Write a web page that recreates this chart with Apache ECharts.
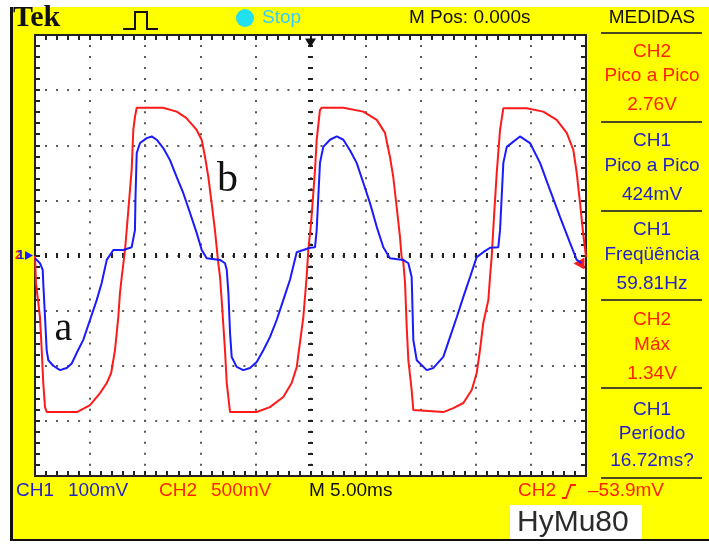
<!DOCTYPE html>
<html>
<head>
<meta charset="utf-8">
<script src="https://cdn.jsdelivr.net/npm/echarts@6/dist/echarts.min.js"></script>
<style>
  html, body { margin: 0; padding: 0; background: #ffffff; }
  #scope { width: 709px; height: 544px; }
</style>
</head>
<body>
<div id="scope"></div>
<script>
// Scope settings
const timePerDiv = 5;        // ms / div
const ch1PerDiv = 100;       // mV / div
const ch2PerDiv = 500;       // mV / div
const timeDivs = 10;
const voltDivs = 8;
const ch2TriggerLevel = -53.9;   // mV
const triggerTime = 25;          // ms, centre of sweep

// CH1 (blue), [ms, mV]
const ch1Trace = [
  [0.00,-5],[0.45,-14],[0.70,-26],[0.75,-50],[0.91,-112],[1.06,-172],[1.21,-190],[1.66,-200],
  [2.27,-208],[2.88,-204],[3.33,-196],[3.78,-177],[4.38,-153],[4.99,-117],[5.60,-81],[6.05,-50],
  [6.51,-8],[7.11,10],[8.01,10],[8.77,15],[9.07,46],[9.12,106],[9.23,186],[9.53,204],[10.14,213],
  [10.59,216],[11.04,210],[11.64,195],[12.25,173],[12.86,142],[13.46,113],[14.07,77],[14.67,41],
  [15.13,10],[15.58,-5],[16.79,-8],[17.24,-14],[17.40,-26],[17.55,-68],[17.70,-141],[17.85,-184],
  [18.30,-202],[18.90,-208],[19.51,-204],[20.12,-193],[20.72,-172],[21.32,-148],[21.93,-117],
  [22.53,-81],[23.14,-44],[23.75,6],[24.95,14],[25.41,15],[25.56,46],[25.86,168],[26.16,197],
  [26.77,210],[27.38,216],[27.98,210],[28.58,191],[29.19,168],[29.79,132],[30.40,95],[31.01,52],
  [31.61,15],[32.21,-5],[33.42,-8],[33.88,-14],[34.18,-39],[34.26,-99],[34.33,-153],[34.64,-190],
  [35.55,-208],[36.15,-204],[37.05,-184],[37.66,-148],[38.27,-112],[38.87,-75],[39.48,-39],
  [40.08,-3],[40.68,6],[41.29,14],[42.04,15],[42.20,46],[42.50,168],[42.81,197],[44.01,216],
  [44.92,204],[45.83,168],[46.73,119],[47.64,70],[48.55,23],[49.16,-8],[49.61,-14]
];

// CH2 (red), [ms, mV]
const ch2Trace = [
  [0.00,-5],[0.09,-250],[0.45,-558],[0.61,-858],[0.75,-1157],[0.91,-1375],[1.06,-1420],[3.81,-1420],
  [4.99,-1357],[5.90,-1248],[6.51,-1157],[6.91,-1066],[7.11,-948],[7.26,-857],[7.56,-558],[7.71,-340],
  [7.87,-195],[8.17,50],[8.32,231],[8.47,413],[8.77,776],[8.92,1139],[9.07,1257],[9.23,1340],
  [11.62,1340],[12.86,1305],[13.72,1248],[14.67,1139],[15.13,1048],[15.43,894],[15.73,712],
  [16.03,476],[16.33,231],[16.63,-68],[16.79,-195],[16.94,-404],[17.24,-857],[17.40,-1157],
  [17.70,-1420],[20.12,-1420],[21.32,-1375],[22.53,-1284],[23.29,-1157],[23.75,-1012],[24.35,-558],
  [24.65,-195],[24.80,50],[25.06,304],[25.41,776],[25.56,1048],[25.86,1320],[26.00,1340],
  [27.98,1340],[29.79,1305],[31.01,1230],[31.76,1112],[32.21,894],[32.51,712],[32.82,440],
  [33.12,168],[33.27,-14],[33.42,-59],[33.58,-250],[33.73,-649],[33.88,-948],[34.18,-1220],
  [34.33,-1402],[34.50,-1420],[37.05,-1420],[37.96,-1384],[38.87,-1338],[39.63,-1220],[40.08,-1066],
  [40.38,-857],[40.68,-612],[41.14,-404],[41.29,-195],[41.44,-14],[41.65,349],[41.90,749],
  [42.20,1139],[42.50,1336],[44.62,1336],[46.12,1305],[47.34,1230],[48.25,1112],[48.85,957],
  [49.16,749],[49.46,476],[49.71,231],[50.00,-14]
];

// Measurement panel
const measureChannels = ['CH2', 'CH1', 'CH1', 'CH2', 'CH1'];
const measureNames = ['Pico a Pico', 'Pico a Pico', 'Freqüência', 'Máx', 'Período'];
const measureValues = ['2.76V', '424mV', '59.81Hz', '1.34V', '16.72ms?'];

const RED = '#ff2200';
const BLUE = '#2222cc';
const TRACE_RED = '#ff1a1a';
const TRACE_BLUE = '#1a1aff';
const SANS = "'Liberation Sans', Arial, sans-serif";
const SERIF = "'Liberation Serif', 'Times New Roman', serif";

const plot = { left: 35, top: 35, width: 551, height: 441 };
const tMax = timePerDiv * timeDivs;
const ch1Max = ch1PerDiv * voltDivs / 2;
const ch2Max = ch2PerDiv * voltDivs / 2;

const tickStyle = { color: '#222', width: 2 };
const dotStep = plot.width / timeDivs / 5;

function borderAxis(extra) {
  return Object.assign({
    type: 'value',
    axisLine: { show: true, onZero: false, lineStyle: { color: '#222', width: 2 } },
    axisTick: { show: true, inside: true, length: 5, lineStyle: tickStyle },
    minorTick: { show: true, splitNumber: 5, length: 5, lineStyle: tickStyle },
    axisLabel: { show: false },
    splitLine: { show: false }
  }, extra);
}
const dotted = { show: true, lineStyle: { color: '#5a5a5a', width: 2, type: [2, dotStep - 2], dashOffset: 1 } };

function txt(text, x, y, fill, font, align) {
  return { type: 'text', x: x, y: y, z: 50,
    style: { text: text, fill: fill, font: font, align: align || 'left', verticalAlign: 'middle' } };
}
function hline(x1, x2, y, color, w) {
  return { type: 'line', z: 50, shape: { x1: x1, y1: y, x2: x2, y2: y }, style: { stroke: color, lineWidth: w } };
}

const graphics = [
  // frame
  { type: 'rect', z: 40, shape: { x: 0, y: 0, width: 709, height: 7 }, style: { fill: '#ffffff' } },
  { type: 'rect', z: 40, shape: { x: 0, y: 0, width: 10, height: 544 }, style: { fill: '#ffffff' } },
  { type: 'rect', z: 40, shape: { x: 0, y: 541, width: 709, height: 3 }, style: { fill: '#ffffff' } },
  { type: 'line', z: 41, shape: { x1: 11.5, y1: 7, x2: 11.5, y2: 541 }, style: { stroke: '#111', lineWidth: 3 } },
  hline(10, 709, 540, '#111', 2),
  // header
  txt('Tek', 13, 18, '#111', 'bold 30px ' + SERIF),
  { type: 'polyline', z: 50, shape: { points: [[123, 29], [135, 29], [135, 12], [147, 12], [147, 29], [158, 29]] },
    style: { stroke: '#111', lineWidth: 2, fill: null } },
  { type: 'circle', z: 50, shape: { cx: 245, cy: 18, r: 9 }, style: { fill: '#22e0f0' } },
  txt('Stop', 262, 18, '#33ccff', '19px ' + SANS),
  txt('M Pos: 0.000s', 409, 18, '#111', '19px ' + SANS),
  txt('MEDIDAS', 652, 18, '#111', '19px ' + SANS, 'center'),
  // footer
  txt('CH1', 16, 491, BLUE, '19px ' + SANS),
  txt(ch1PerDiv + 'mV', 68, 491, BLUE, '19px ' + SANS),
  txt('CH2', 159, 491, RED, '19px ' + SANS),
  txt(ch2PerDiv + 'mV', 211, 491, RED, '19px ' + SANS),
  txt('M ' + timePerDiv.toFixed(2) + 'ms', 309, 491, '#111', '19px ' + SANS),
  txt('CH2', 518, 491, RED, '19px ' + SANS),
  { type: 'polyline', z: 50, shape: { points: [[562, 498], [566, 498], [571, 485], [576, 485]] },
    style: { stroke: RED, lineWidth: 1.8, fill: null } },
  txt((ch2TriggerLevel < 0 ? '–' : '') + Math.abs(ch2TriggerLevel).toFixed(1) + 'mV', 588, 491, RED, '19px ' + SANS),
  { type: 'rect', z: 45, shape: { x: 510, y: 505, width: 132, height: 35 }, style: { fill: '#ffffff' } },
  txt('HyMu80', 517, 523, '#2b2b2b', '30px ' + SANS),
  // curve labels
  txt('a', 63.5, 329, '#111', '40px ' + SERIF, 'center'),
  txt('b', 227.5, 180, '#111', '42px ' + SERIF, 'center'),
  // ground reference labels
  txt('2', 15, 255, RED, 'bold 13px ' + SANS),
  txt('1', 17, 255, BLUE, 'bold 13px ' + SANS)
];

// measurement panel
const sepY = [33, 122, 211, 300, 388, 478];
sepY.forEach(function (y) { graphics.push(hline(601, 702, y, '#4a4a22', 2)); });
const rowTop = [51.5, 141, 230, 320, 409.5];
measureChannels.forEach(function (ch, i) {
  const col = ch === 'CH2' ? RED : BLUE;
  const y0 = rowTop[i];
  graphics.push(txt(ch, 652, y0, col, '19px ' + SANS, 'center'));
  graphics.push(txt(measureNames[i], 652, y0 + 24.5, col, '19px ' + SANS, 'center'));
  graphics.push(txt(measureValues[i], 652, y0 + (i === 4 ? 51 : 53.5), col, '19px ' + SANS, 'center'));
});

const option = {
  animation: false,
  backgroundColor: '#ffff00',
  grid: [
    Object.assign({ show: true, backgroundColor: '#ffffff', borderWidth: 0 }, plot),
    // horizontal centre graticule (ticks straddle the centre line)
    { left: plot.left, top: plot.top, width: plot.width, height: plot.height / 2 + 2.5, show: false },
    // vertical centre graticule
    { left: plot.left, top: plot.top, width: plot.width / 2 + 2.5, height: plot.height, show: false }
  ],
  xAxis: [
    borderAxis({ gridIndex: 0, min: 0, max: tMax, interval: timePerDiv, position: 'bottom', splitLine: dotted }),
    borderAxis({ gridIndex: 0, min: 0, max: tMax, interval: timePerDiv, position: 'top' }),
    borderAxis({ gridIndex: 1, min: 0, max: tMax, interval: timePerDiv, position: 'bottom',
      axisLine: { show: false, onZero: false } }),
    { gridIndex: 2, type: 'value', min: 0, max: 1, show: false }
  ],
  yAxis: [
    borderAxis({ gridIndex: 0, min: -ch1Max, max: ch1Max, interval: ch1PerDiv, position: 'left', splitLine: dotted }),
    borderAxis({ gridIndex: 0, min: -ch2Max, max: ch2Max, interval: ch2PerDiv, position: 'right' }),
    { gridIndex: 1, type: 'value', min: 0, max: 1, show: false },
    borderAxis({ gridIndex: 2, min: -ch1Max, max: ch1Max, interval: ch1PerDiv, position: 'right',
      axisLine: { show: false, onZero: false } })
  ],
  series: [
    {
      name: 'CH2', type: 'line', xAxisIndex: 0, yAxisIndex: 1, data: ch2Trace,
      showSymbol: false, symbol: 'none', z: 5,
      lineStyle: { color: TRACE_RED, width: 2 },
      markPoint: {
        silent: true, animation: false,
        data: [{
          coord: [tMax, ch2TriggerLevel], symbol: 'triangle', symbolRotate: 90,
          symbolSize: [12, 11], symbolOffset: [-7, 2],
          itemStyle: { color: TRACE_RED }, label: { show: false }
        }]
      }
    },
    {
      name: 'CH1', type: 'line', xAxisIndex: 0, yAxisIndex: 0, data: ch1Trace,
      showSymbol: false, symbol: 'none', z: 6,
      lineStyle: { color: TRACE_BLUE, width: 2 },
      markPoint: {
        silent: true, animation: false,
        data: [
          { coord: [0, 0], symbol: 'triangle', symbolRotate: -90, symbolSize: [9, 8], symbolOffset: [-6, 0],
            itemStyle: { color: TRACE_BLUE }, label: { show: false } },
          { coord: [triggerTime, ch1Max], symbol: 'triangle', symbolRotate: 180, symbolSize: [11, 9], symbolOffset: [0, 8],
            itemStyle: { color: '#111' }, label: { show: false } }
        ]
      }
    }
  ],
  graphic: graphics
};

echarts.init(document.getElementById('scope'), null, { renderer: 'canvas' }).setOption(option);
</script>
</body>
</html>
